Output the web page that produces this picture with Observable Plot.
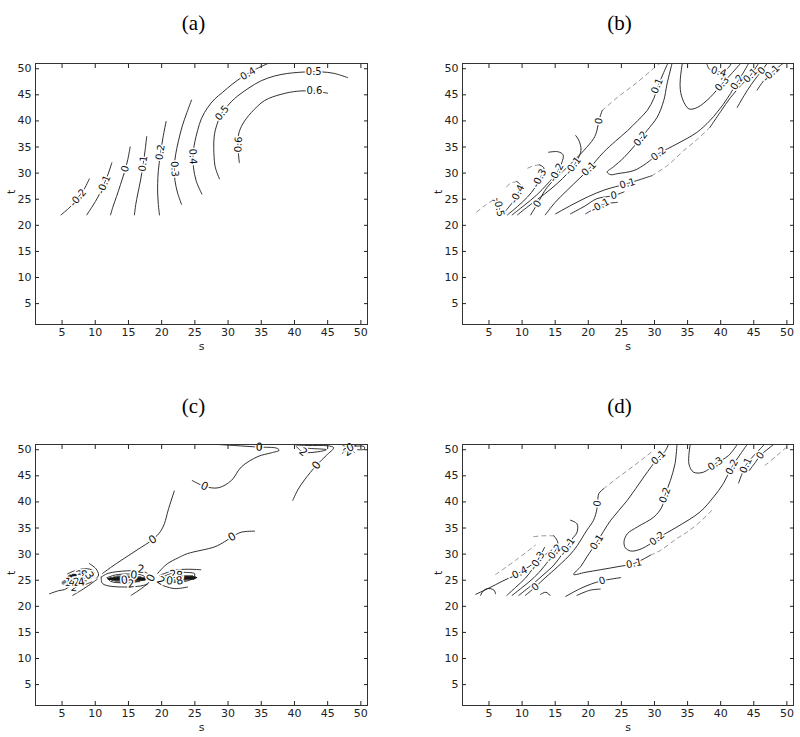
<!DOCTYPE html>
<html><head><meta charset="utf-8">
<script src="https://cdn.jsdelivr.net/npm/d3@7"></script>
<script src="https://cdn.jsdelivr.net/npm/@observablehq/plot@0.6"></script>
<style>
body{margin:0;background:#fff;}
#wrap{position:relative;width:800px;height:737px;background:#fff;}
.panel{position:absolute;}
</style></head><body><div id="wrap"></div>
<script>
const sTicks = [5,10,15,20,25,30,35,40,45,50];
const tTicks = [5,10,15,20,25,30,35,40,45,50];
const titles = ["(a)","(b)","(c)","(d)"];
const xName = "s", yName = "t";

// ---------- panel (a)
const linesA = [
 {level:"-0.2", pts:[[4.85,22.0],[6.2,23.5],[7.4,25.3],[8.4,27.1],[9.1,28.9]]},
 {level:"-0.1", pts:[[8.72,22.0],[9.6,23.7],[10.4,25.4],[11.2,27.5],[11.9,29.7],[12.5,32.0]]},
 {level:"0", pts:[[12.3,22.0],[12.7,23.7],[13.2,25.5],[13.8,27.8],[14.4,30.2],[14.9,32.6],[15.25,35.0]]},
 {level:"0.1", pts:[[15.9,22.0],[16.1,24.0],[16.4,26.0],[16.8,28.5],[17.2,31.5],[17.5,34.3],[17.75,37.0]]},
 {level:"0.2", pts:[[19.67,22.0],[19.5,24.0],[19.4,26.0],[19.4,28.0],[19.5,30.5],[19.8,33.5],[20.2,36.8],[20.67,39.9]]},
 {level:"0.3", pts:[[23.0,24.0],[22.4,26.2],[22.0,28.6],[21.9,31.0],[22.1,33.5],[22.5,36.0],[23.1,39.0],[23.8,41.6],[24.5,44.0]]},
 {level:"0.4", pts:[[26.05,26.0],[25.2,28.5],[24.8,31.0],[24.7,33.5],[25.0,36.0],[25.4,38.1],[26.0,40.5],[26.95,42.6],[28.0,44.2],[29.2,45.5],[30.6,47.0],[32.0,48.3],[34.0,49.8],[36.0,51.0]]},
 {level:"0.5", pts:[[28.7,28.9],[28.1,31.0],[27.9,33.0],[27.9,36.9],[28.3,39.2],[29.0,41.4],[30.0,43.0],[31.0,44.3],[33.0,46.2],[35.0,47.7],[37.0,48.6],[39.0,49.1],[42.0,49.4],[44.0,49.4],[46.0,49.1],[48.0,48.3]]},
 {level:"0.6", pts:[[31.7,32.0],[31.5,35.0],[31.6,37.5],[32.2,39.4],[33.5,41.6],[35.5,43.9],[38.0,45.1],[40.5,45.7],[43.0,45.7],[45.0,45.3]]}
];
const faintA = [];
const labelsA = [["-0.2",7.4,25.3],["-0.1",11.3,27.8],["0",14.5,30.8],["0.1",17.2,31.8],["0.2",19.8,34.0],["0.3",21.95,30.8],["0.4",24.7,33.2],["0.4",33.0,49.05],["0.5",29.1,41.5],["0.5",42.9,49.4],["0.6",31.55,35.5],["0.6",43.0,45.7]];

// ---------- panel (b)
const linesB = [
 {level:"-0.5", pts:[[6.3,22.0],[6.6,23.2],[6.4,24.4],[5.6,24.8]]},
 {level:"-0.4", pts:[[7.0,22.0],[8.0,23.5],[8.9,25.0],[9.5,26.5],[9.7,27.8],[9.2,28.4]]},
 {level:"-0.3", pts:[[7.8,22.0],[9.3,23.6],[10.8,25.4],[12.0,27.3],[12.9,29.5],[13.3,31.0],[12.6,31.6]]},
 {level:"-0.2", pts:[[8.5,22.0],[10.3,23.8],[12.2,25.8],[13.8,27.9],[15.2,30.0],[16.0,32.0],[16.2,33.5],[15.4,34.1],[14.0,34.0]]},
 {level:"-0.1", pts:[[9.3,22.0],[11.3,24.0],[13.4,26.0],[15.3,28.0],[16.9,30.0],[18.3,32.4],[18.9,34.4],[18.6,36.2],[18.1,37.2]]},
 {level:"0", pts:[[11.3,22.0],[12.3,24.1],[13.8,27.3],[16.8,31.1],[19.3,34.3],[20.8,36.6],[21.3,38.1],[21.6,40.06],[22.1,42.0]]},
 {level:"0.1", pts:[[13.5,22.0],[15.0,24.4],[16.8,26.7],[18.6,28.9],[20.1,30.8],[22.3,34.0],[24.1,36.1],[25.9,38.1],[27.5,40.1],[28.9,42.0],[29.9,44.3],[30.5,46.5],[31.3,49.0],[32.0,51.0]]},
 {level:"0.2", pts:[[32.65,51.0],[31.9,47.1],[31.4,43.9],[30.4,40.7],[28.9,38.2],[27.9,36.6],[25.4,33.0],[23.8,31.2],[22.85,30.2],[23.4,29.7],[24.4,29.9],[26.9,30.5],[28.8,31.9],[30.6,33.7],[33.4,35.6],[36.4,37.8],[38.4,40.1],[40.4,43.2],[41.5,45.3],[42.5,47.4],[43.4,49.2],[44.2,51.0]]},
 {level:"0.3", pts:[[34.2,51.0],[33.9,48.0],[33.9,46.0],[34.3,44.0],[35.2,42.3],[36.5,42.6],[38.4,44.5],[40.2,47.1],[41.6,49.0],[43.0,51.0]]},
 {level:"0.4", pts:[[37.9,51.0],[38.3,49.9],[39.7,49.4],[41.0,50.0],[41.6,51.0]]},
 {level:"0.1", pts:[[15.06,22.2],[17.5,23.9],[20.0,25.5],[22.5,26.8],[25.9,28.0],[29.6,29.5]]},
 {level:"0.1", pts:[[38.4,38.8],[40.0,41.8],[41.5,44.5],[43.2,47.0],[44.5,48.7],[45.7,51.0]]},
 {level:"0", pts:[[17.3,22.2],[19.5,23.7],[21.3,25.1],[23.85,25.7],[25.4,26.4]]},
 {level:"0", pts:[[42.5,42.6],[44.0,45.8],[45.2,48.0],[46.2,49.6],[47.0,51.0]]},
 {level:"-0.1", pts:[[19.6,22.2],[20.8,23.1],[21.8,23.8],[23.0,24.2],[24.4,24.4]]},
 {level:"-0.1", pts:[[45.5,45.9],[46.5,47.7],[47.6,49.1],[49.0,50.6],[49.4,51.0]]}
];
const faintB = [
 {level:"-0.5", pts:[[5.6,24.8],[4.4,23.8],[3.0,22.4]]},
 {level:"-0.4", pts:[[9.2,28.4],[8.2,28.0],[7.3,26.9]]},
 {level:"-0.3", pts:[[12.6,31.6],[11.5,31.3],[10.6,30.8]]},
 {level:"0", pts:[[22.1,42.0],[24.4,44.5],[27.4,47.4],[30.1,50.3],[30.8,51.0]]},
 {level:"0.1", pts:[[29.6,29.5],[32.0,31.5],[34.4,34.3],[36.5,36.5],[38.4,38.8]]}
];
const labelsB = [["-0.5",6.5,23.5],["-0.4",9.3,26.0],["-0.3",12.6,29.0],["-0.2",15.2,30.1],["-0.1",17.7,31.4],["0",12.3,24.1],["0",21.6,40.0],["0.1",20.1,30.8],["0.1",30.4,46.7],["0.2",27.9,36.6],["0.2",30.6,33.7],["0.2",42.5,47.4],["0.3",40.2,47.1],["0.4",39.7,49.4],["0.1",25.9,28.0],["0.1",44.5,48.7],["0",23.85,25.7],["0",46.2,49.6],["-0.1",21.8,23.8],["-0.1",47.6,49.1]];

// ---------- panel (c)
const linesC = [
 {level:"0", pts:[[11.1,26.3],[12.5,27.6],[13.9,28.8],[16.3,30.8],[18.66,32.8],[19.8,34.3],[20.4,35.8],[21.0,38.5],[21.9,42.1]]},
 {level:"0", pts:[[19.4,26.3],[20.1,27.3],[20.9,28.2],[22.5,29.3],[23.9,30.1],[28.0,31.4],[29.5,32.4],[30.6,33.3],[32.0,34.2],[34.0,34.4]]},
 {level:"0", pts:[[24.6,44.1],[26.45,43.0],[28.5,42.7],[30.5,44.1],[32.0,46.7],[34.5,48.7],[36.5,49.4],[37.7,49.9],[37.3,50.3],[34.7,50.5],[31.0,50.8],[28.5,51.0]]},
 {level:"0", pts:[[39.75,40.3],[40.5,42.3],[41.5,44.2],[43.3,47.0],[44.8,48.9],[45.9,50.4],[45.0,50.75],[42.0,50.8],[40.2,50.9]]},
 {level:"2", pts:[[40.3,50.6],[41.3,49.55],[43.5,49.6],[44.8,50.0],[43.0,50.2],[41.5,50.3]]},
 {level:"2", pts:[[47.2,49.3],[48.3,50.3],[49.5,51.0]]},
 {level:"2", pts:[[47.3,50.8],[48.5,50.1],[49.0,49.5]]},
 {level:"0", pts:[[48.5,50.6],[50.5,50.6],[50.5,50.1],[49.5,50.0]]},
 {level:"-2", pts:[[3.1,22.4],[4.5,23.0],[5.35,23.2],[6.0,23.7]]},
 {level:"-2", pts:[[6.6,22.1],[7.8,23.0],[9.4,24.35],[10.3,25.2]]},
 {level:"0", pts:[[9.1,28.2],[10.1,27.2],[10.5,26.0],[10.2,25.4]]},
 {level:"2", pts:[[5.8,26.2],[6.85,26.8],[8.6,27.2],[9.6,26.9],[9.9,26.3]]},
 {level:"-2", pts:[[5.5,24.1],[7.0,23.9],[8.5,24.2],[9.5,24.7]]},
 {level:"2", pts:[[10.9,25.6],[11.9,26.3],[14.9,26.8],[17.4,26.6],[18.4,25.6],[17.9,24.35],[14.4,23.7],[11.1,24.35],[10.9,25.6]]},
 {level:"4", pts:[[11.8,25.5],[13.0,26.0],[15.0,26.2],[17.0,26.0],[17.6,25.4],[16.5,24.8],[14.3,24.5],[12.3,24.8],[11.8,25.5]]},
 {level:"-2", pts:[[15.4,22.1],[16.6,23.1],[17.9,24.3]]},
 {level:"2", pts:[[19.66,25.9],[21.9,26.9],[24.0,27.1],[25.9,27.0]]},
 {level:"-2", pts:[[19.4,24.35],[21.9,23.4],[23.9,23.7]]},
 {level:"4", pts:[[20.0,25.5],[21.5,26.3],[23.5,26.5],[25.0,26.2],[24.5,25.2],[22.5,24.6],[20.8,24.8],[20.0,25.5]]}
];
const faintC = [];
const darkBarsC = [
 {t:25.5,s0:6.0,s1:9.6},{t:25.65,s0:5.9,s1:9.8},{t:25.8,s0:6.0,s1:9.8},{t:25.95,s0:6.2,s1:9.6},{t:26.1,s0:6.6,s1:9.2},
 {t:25.0,s0:12.5,s1:17.6},{t:25.15,s0:12.0,s1:17.9},{t:25.3,s0:11.9,s1:17.9},{t:25.45,s0:12.2,s1:17.6},{t:25.6,s0:12.8,s1:17.0},
 {t:25.2,s0:20.6,s1:25.0},{t:25.35,s0:20.3,s1:25.2},{t:25.5,s0:20.4,s1:25.4},{t:25.65,s0:20.9,s1:25.2},{t:25.8,s0:21.6,s1:24.8}
];
const grayBarsC = [
 {t:24.3,s0:5.1,s1:8.1},{t:24.5,s0:5.0,s1:8.4},{t:24.7,s0:5.1,s1:8.6},{t:24.9,s0:5.3,s1:8.8},
 {t:24.75,s0:13.0,s1:16.8},{t:25.8,s0:13.3,s1:16.5},
 {t:24.8,s0:20.5,s1:23.5},{t:24.95,s0:20.2,s1:23.8}
];
const labelsC = [["0",18.66,32.8],["0",30.6,33.3],["0",26.45,43.0],["0",34.7,50.5],["0",43.3,47.0],["2",41.3,49.55],["2",48.0,49.6],["0",48.4,50.4],
 ["2",6.86,23.6],["3",7.6,26.0],["8",8.4,26.0],["3",9.1,25.9],["1",5.9,24.6],["4",6.5,24.6],["2",7.2,24.6],["4",7.9,24.6],
 ["2",16.9,27.1],["0",15.8,26.0],["0",18.4,25.4],["2",15.4,24.3],["0",14.4,25.0],
 ["2",21.7,26.1],["8",22.7,25.9],["2",19.9,24.9],["0",21.2,24.9],["8",22.7,24.9]];

// ---------- panel (d)
const linesD = [
 {level:"-0.5", pts:[[3.74,22.1],[4.0,22.75],[4.75,23.4],[5.75,23.1],[6.0,22.4]]},
 {level:"-0.4", pts:[[3.0,22.3],[5.0,23.5],[7.0,24.8],[9.4,26.3],[11.5,28.0],[13.4,29.8],[14.5,30.8]]},
 {level:"-0.3", pts:[[7.7,22.1],[9.0,23.6],[10.5,25.4],[11.6,27.2],[12.3,28.7],[13.0,30.3],[13.4,31.3]]},
 {level:"-0.2", pts:[[8.5,22.1],[10.0,23.6],[11.8,25.5],[13.3,27.6],[14.8,30.2],[15.4,31.6],[15.3,32.6],[14.8,33.5]]},
 {level:"-0.1", pts:[[9.5,22.1],[11.2,23.8],[13.0,25.8],[14.8,27.9],[16.0,29.9],[16.8,31.4],[17.5,32.8],[18.3,34.2],[18.3,35.8],[17.3,36.5]]},
 {level:"0", pts:[[10.5,22.1],[12.0,23.7],[13.6,25.6],[15.3,27.5],[17.8,30.7],[19.8,34.6],[20.8,36.5],[21.3,38.6],[21.4,39.7],[21.6,41.6],[22.3,42.5]]},
 {level:"0.1", pts:[[32.1,51.0],[31.6,49.7],[30.6,48.5],[28.4,44.8],[25.9,40.3],[23.4,36.5],[21.3,32.3],[19.8,29.5],[18.9,27.7],[17.8,26.1],[19.5,26.5],[21.8,27.0],[24.5,27.6],[26.9,28.2],[29.4,29.8]]},
 {level:"0.2", pts:[[33.4,51.0],[33.1,47.3],[32.4,44.1],[31.6,41.3],[31.1,39.0],[29.9,37.1],[27.4,35.2],[25.9,33.9],[25.4,32.4],[25.6,31.2],[26.4,30.6],[27.8,30.9],[29.4,32.0],[30.4,33.0],[33.4,35.2],[36.9,38.1],[38.9,40.9],[40.4,43.5],[41.7,46.7],[43.0,49.2],[44.0,51.0]]},
 {level:"0.3", pts:[[35.4,51.0],[35.2,47.3],[35.9,45.7],[37.4,45.7],[39.2,47.3],[41.2,48.9],[42.5,51.0]]},
 {level:"0.1", pts:[[42.7,43.6],[43.2,45.3],[43.8,47.0],[44.8,48.6],[46.0,50.2],[46.6,51.0]]},
 {level:"0", pts:[[44.3,46.0],[45.2,47.5],[46.0,48.9],[47.0,50.0],[48.0,51.0]]},
 {level:"0", pts:[[16.6,21.9],[18.8,23.4],[20.5,24.3],[22.1,24.9],[24.9,25.5]]},
 {level:"-0.1", pts:[[18.3,22.1],[20.3,23.1],[21.8,23.3]]},
 {level:"-0.2", pts:[[12.8,22.3],[13.6,22.7],[14.2,22.1]]}
];
const faintD = [
 {level:"0", pts:[[22.3,42.5],[24.2,44.4],[25.9,46.0],[27.6,47.6],[28.9,48.9],[29.9,49.9]]},
 {level:"0.1", pts:[[29.4,29.8],[30.9,30.7],[33.4,33.0],[34.9,34.2],[36.9,36.2],[38.9,38.7]]},
 {level:"-0.1", pts:[[46.7,47.0],[48.5,48.9],[50.25,50.8]]},
 {level:"-0.5", pts:[[6.0,26.1],[9.0,28.8],[12.0,31.7]]},
 {level:"-0.2", pts:[[14.8,33.5],[13.0,33.5],[11.5,33.3]]}
];
const labelsD = [["-0.4",9.4,26.3],["-0.3",12.3,28.7],["-0.2",14.8,30.2],["-0.1",16.8,31.4],["0",12.0,23.7],["0",21.4,39.7],["0.1",21.3,32.3],["0.1",30.6,48.5],["0.1",26.9,28.2],["0.2",31.6,41.3],["0.2",30.4,33.0],["0.2",41.7,46.7],["0.3",39.2,47.3],["0.1",43.8,47.0],["0",46.0,48.9],["0",22.1,24.9]];

// ---------- drawing
function placeLabels(labels, lines, kx, ky){
  return labels.map(([txt,s,t]) => {
    let best = Infinity, ang = 0;
    for (const l of lines) for (let i = 0; i < l.pts.length - 1; i++) {
      const [s1,t1] = l.pts[i], [s2,t2] = l.pts[i+1];
      const ax = (s2-s1)*kx, ay = -(t2-t1)*ky, px = (s-s1)*kx, py = -(t-t1)*ky;
      const L = ax*ax + ay*ay;
      let u = L ? (px*ax + py*ay)/L : 0; u = Math.max(0, Math.min(1, u));
      const dx = px - u*ax, dy = py - u*ay, d = dx*dx + dy*dy;
      if (d < best) { best = d; ang = Math.atan2(ay, ax)*180/Math.PI; }
    }
    if (ang > 90) ang -= 180;
    if (ang <= -90) ang += 180;
    if (best > 36) ang = 0;
    return {txt, s, t, ang};
  });
}
const flat = arr => arr.flatMap((l,i) => l.pts.map(([s,t]) => ({s, t, id:i})));

function drawPanel(cfg){
  const {lines, faint, labels, darkBars=[], grayBars=[], title, H, ml, mr, mt, mb, left, top, labelSize, titleDx, titleDy} = cfg;
  const W = 400;
  const kx = (W-ml-mr)/50, ky = (H-mt-mb)/50;
  const lab = placeLabels(labels, lines.concat(faint), kx, ky);
  const svg = Plot.plot({
    width: W, height: H, marginLeft: ml, marginRight: mr, marginTop: mt, marginBottom: mb,
    x: {domain:[1,51], label:null},
    y: {domain:[1,51], label:null},
    style: {fontFamily:"DejaVu Sans", fontSize:"11px", background:"white", color:"#222"},
    marks: [
      Plot.ruleY(grayBars, {y:"t", x1:"s0", x2:"s1", stroke:"#777", strokeWidth:1.5}),
      Plot.ruleY(darkBars, {y:"t", x1:"s0", x2:"s1", stroke:"#151515", strokeWidth:1.3}),
      Plot.line(flat(faint), {x:"s", y:"t", z:"id", stroke:"#888", strokeWidth:0.9, strokeDasharray:"4,4", curve:"catmull-rom"}),
      Plot.line(flat(lines), {x:"s", y:"t", z:"id", stroke:"#1a1a1a", strokeWidth:0.9, curve:"catmull-rom"}),
      Plot.text(lab, {x:"s", y:"t", text:"txt", rotate:"ang", fontSize:labelSize, fill:"#111", stroke:"white", strokeWidth:3, paintOrder:"stroke"}),
      Plot.frame({stroke:"#333"}),
      Plot.axisX({ticks:sTicks, anchor:"bottom", tickSize:0, tickPadding:4}),
      Plot.axisX({ticks:sTicks, anchor:"bottom", tickSize:-4, tickFormat:() => ""}),
      Plot.axisX({ticks:sTicks, anchor:"top", tickSize:-4, tickFormat:() => ""}),
      Plot.axisY({ticks:tTicks, anchor:"left", tickSize:0, tickPadding:4}),
      Plot.axisY({ticks:tTicks, anchor:"left", tickSize:-4, tickFormat:() => ""}),
      Plot.axisY({ticks:tTicks, anchor:"right", tickSize:-4, tickFormat:() => ""}),
      Plot.text([xName], {text:d => d, frameAnchor:"bottom", dy:25}),
      Plot.text([yName], {text:d => d, frameAnchor:"left", dx:-24, rotate:-90}),
      Plot.text([title], {text:d => d, frameAnchor:"top", dx:titleDx, dy:titleDy, fontSize:21, fontFamily:"Liberation Serif", fill:"#000"})
    ]
  });
  const div = document.createElement("div");
  div.className = "panel";
  div.style.left = left + "px"; div.style.top = top + "px";
  div.appendChild(svg);
  document.getElementById("wrap").appendChild(div);
}

drawPanel({lines:linesA, faint:faintA, labels:labelsA, title:titles[0], H:370, ml:35, mr:33, mt:63, mb:46, left:0, top:0, labelSize:10, titleDx:-8, titleDy:-48});
drawPanel({lines:linesB, faint:faintB, labels:labelsB, title:titles[1], H:370, ml:62, mr:7, mt:63, mb:46, left:400, top:0, labelSize:10, titleDx:-8.5, titleDy:-48});
drawPanel({lines:linesC, faint:faintC, labels:labelsC, darkBars:darkBarsC, grayBars:grayBarsC, title:titles[2], H:367, ml:35, mr:33, mt:74, mb:32, left:0, top:370, labelSize:11, titleDx:-8, titleDy:-46});
drawPanel({lines:linesD, faint:faintD, labels:labelsD, title:titles[3], H:367, ml:62, mr:7, mt:74, mb:32, left:400, top:370, labelSize:10, titleDx:-8.5, titleDy:-46});
</script>
</body></html>
